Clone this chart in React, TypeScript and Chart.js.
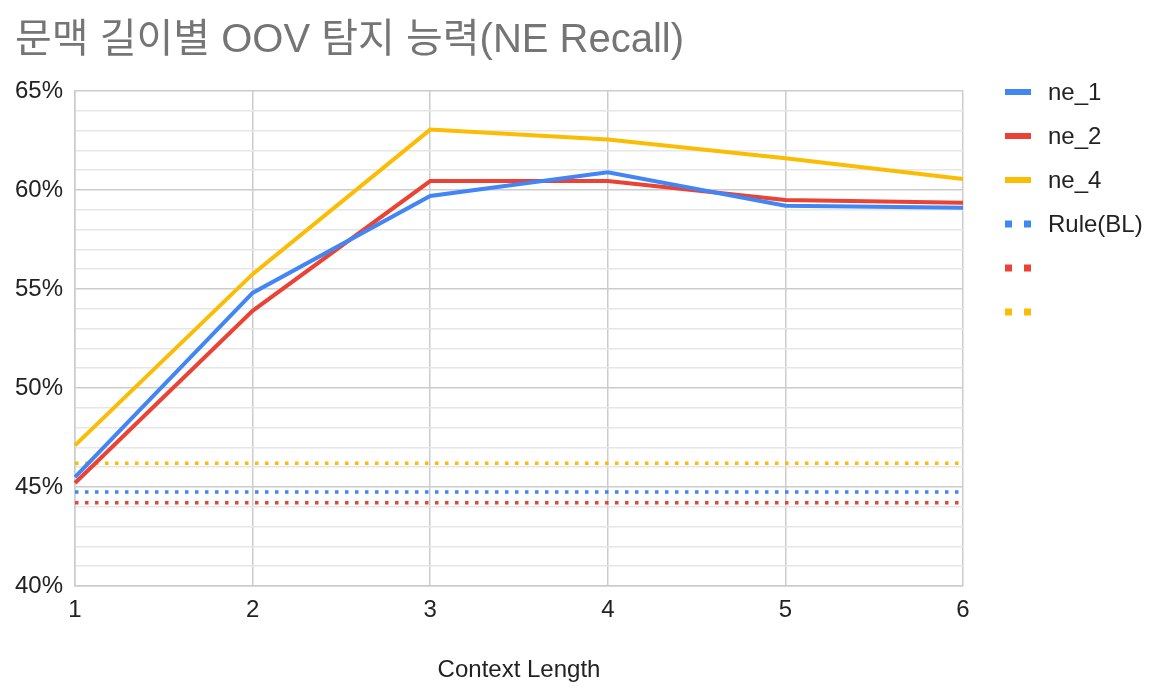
import React, { useEffect, useRef } from "react";
import { Chart, registerables } from "chart.js";

Chart.register(...registerables);

const categories = ["1", "2", "3", "4", "5", "6"];
const ne1 = [45.5, 54.8, 59.7, 60.9, 59.2, 59.1];
const ne2 = [45.2, 53.9, 60.45, 60.45, 59.5, 59.35];
const ne4 = [47.1, 55.75, 63.05, 62.55, 61.6, 60.55];
const ruleBL = [44.75, 44.75, 44.75, 44.75, 44.75, 44.75];
const ruleNe2 = [44.2, 44.2, 44.2, 44.2, 44.2, 44.2];
const ruleNe4 = [46.2, 46.2, 46.2, 46.2, 46.2, 46.2];
const seriesLabels = ["ne_1", "ne_2", "ne_4", "Rule(BL)", "", ""];
const yTickLabels = ["40%", "45%", "50%", "55%", "60%", "65%"];

const BLUE = "#4285f4";
const RED = "#ea4335";
const YELLOW = "#fbbc04";
const FONT = "'Liberation Sans', Arial, 'Noto Sans CJK KR', sans-serif";

const legendPlugin = {
  id: "sheetLegend",
  afterDraw(chart: any) {
    const ctx = chart.ctx;
    const ca = chart.chartArea;
    const x0 = ca.right + 42;
    const y0 = ca.top + 1;
    const step = 44;
    ctx.save();
    chart.data.datasets.forEach((ds: any, i: number) => {
      const y = y0 + i * step;
      ctx.fillStyle = ds.borderColor;
      if (ds.borderDash && ds.borderDash.length) {
        ctx.fillRect(x0, y - 3.5, 7, 7);
        ctx.fillRect(x0 + 19, y - 3.5, 7, 7);
      } else {
        ctx.fillRect(x0, y - 3, 26, 6);
      }
      if (ds.label) {
        ctx.fillStyle = "#222222";
        ctx.font = `24px ${FONT}`;
        ctx.textBaseline = "middle";
        ctx.textAlign = "left";
        ctx.fillText(ds.label, x0 + 43, y + 1);
      }
    });
    ctx.restore();
  },
};

export default function App() {
  const ref = useRef<HTMLCanvasElement | null>(null);
  useEffect(() => {
    document.body.style.margin = "0";
    const mk = (label: string, data: number[], color: string, dotted: boolean) => ({
      label,
      data,
      borderColor: color,
      backgroundColor: color,
      borderWidth: dotted ? 3.5 : 4,
      borderDash: dotted ? [3.5, 6.5] : [],
      borderCapStyle: "butt" as const,
      pointRadius: 0,
      pointHoverRadius: 0,
      tension: 0,
      fill: false,
    });
    const chart = new Chart(ref.current as HTMLCanvasElement, {
      type: "line",
      data: {
        labels: categories,
        datasets: [
          mk(seriesLabels[0], ne1, BLUE, false),
          mk(seriesLabels[1], ne2, RED, false),
          mk(seriesLabels[2], ne4, YELLOW, false),
          mk(seriesLabels[3], ruleBL, BLUE, true),
          mk(seriesLabels[4], ruleNe2, RED, true),
          mk(seriesLabels[5], ruleNe4, YELLOW, true),
        ],
      },
      plugins: [legendPlugin],
      options: {
        responsive: false,
        animation: false,
        events: [],
        layout: { padding: { left: 15, right: 191, top: 0, bottom: 9 } },
        plugins: {
          legend: { display: false },
          tooltip: { enabled: false },
          title: {
            display: true,
            text: "문맥 길이별 OOV 탐지 능력(NE Recall)",
            align: "start",
            color: "#757575",
            font: { family: FONT, size: 40, weight: "normal" },
            padding: { top: 17, bottom: 26 },
          },
        },
        scales: {
          x: {
            type: "category",
            offset: false,
            grid: { color: "#cccccc", lineWidth: 1.5, drawTicks: false },
            border: { color: "#cccccc", width: 1.5 },
            ticks: {
              color: "#222222",
              font: { family: FONT, size: 24 },
              padding: 10,
              maxRotation: 0,
            },
            title: {
              display: true,
              text: "Context Length",
              color: "#222222",
              font: { family: FONT, size: 24 },
              padding: { top: 0, bottom: 0 },
            },
            afterFit: (s: any) => {
              s.height = 99;
            },
          },
          y: {
            type: "linear",
            min: 40,
            max: 65,
            grid: {
              color: (c: any) => (c.tick && Math.round(c.tick.value) % 5 === 0 ? "#cccccc" : "#e6e6e6"),
              lineWidth: 1.5,
              drawTicks: false,
            },
            border: { color: "#cccccc", width: 1.5 },
            ticks: {
              stepSize: 1,
              autoSkip: false,
              color: "#222222",
              font: { family: FONT, size: 24 },
              padding: 12,
              callback: (v: any) => {
                const n = Math.round(Number(v));
                if (n % 5 !== 0) return "";
                return yTickLabels[(n - 40) / 5];
              },
            },
            afterFit: (s: any) => {
              s.width = 60;
            },
          },
        },
      },
    });
    return () => chart.destroy();
  }, []);
  return (
    <div style={{ position: "fixed", left: 0, top: 0, width: 1154, height: 694, background: "#fff" }}>
      <canvas ref={ref} width={1154} height={694} style={{ width: 1154, height: 694 }} />
    </div>
  );
}
